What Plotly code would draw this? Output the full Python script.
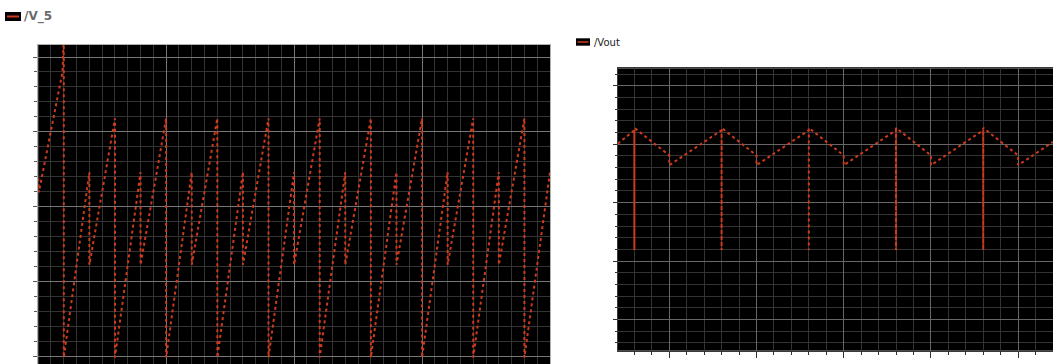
import plotly.graph_objects as go

# ---------------- data ----------------
# /V_5 (left panel) : time in grid units, value in grid units
v5_t = [0.0, 0.05, 1.9, 2.0, 2.0,
        4.0, 4.0, 6.0, 6.0,
        8.0, 8.0, 10.0, 10.0,
        12.0, 12.0, 14.0, 14.0,
        16.0, 16.0, 18.0, 18.0,
        20.0, 20.0, 22.0, 22.0,
        24.0, 24.0, 26.0, 26.0,
        28.0, 28.0, 30.0, 30.0,
        32.0, 32.0, 34.0, 34.0,
        36.0, 36.0, 38.0, 38.0,
        40.0]
v5_v = [2.38, 2.19, 3.80, 4.30, -0.02,
        2.46, 1.22, 3.18, -0.02,
        2.46, 1.22, 3.18, -0.02,
        2.46, 1.22, 3.18, -0.02,
        2.46, 1.22, 3.18, -0.02,
        2.46, 1.22, 3.18, -0.02,
        2.46, 1.22, 3.18, -0.02,
        2.46, 1.22, 3.18, -0.02,
        2.46, 1.22, 3.18, -0.02,
        2.46, 1.22, 3.18, -0.02,
        2.46]

# /Vout (right panel)
vout_t = [2.05, 3.0, 3.0, 3.0, 5.0, 5.0,
          8.0, 8.0, 8.0, 10.0, 10.0,
          13.0, 13.0, 13.0, 15.0, 15.0,
          18.0, 18.0, 18.0, 20.0, 20.0,
          23.0, 23.0, 23.0, 25.0, 25.0,
          27.0]
vout_v = [3.01, 3.24, 1.19, 3.28, 2.81, 2.64,
          3.24, 1.19, 3.28, 2.81, 2.64,
          3.24, 1.19, 3.28, 2.81, 2.64,
          3.24, 1.19, 3.28, 2.81, 2.64,
          3.24, 1.19, 3.28, 2.81, 2.64,
          3.04]

legend_left = "/V_5"
legend_right = "/Vout"

# ---------------- figure ----------------
W, H = 1053, 364
RED = "#cc3b1e"

def px(x):
    return x / W

def py(y):
    return 1 - y / H

fig = go.Figure()
fig.add_trace(go.Scatter(x=v5_t, y=v5_v, mode="lines",
                         line=dict(color=RED, width=2, dash="dot"),
                         xaxis="x", yaxis="y", showlegend=False,
                         hoverinfo="skip"))
fig.add_trace(go.Scatter(x=vout_t, y=vout_v, mode="lines",
                         line=dict(color=RED, width=2, dash="dot"),
                         xaxis="x2", yaxis="y2", showlegend=False,
                         hoverinfo="skip"))

MINOR = "#333333"
MAJOR_L = "#777777"
MAJOR_R = "#666666"

fig.update_layout(
    width=W, height=H,
    margin=dict(l=0, r=0, t=0, b=0),
    paper_bgcolor="white",
    plot_bgcolor="black",
    xaxis=dict(domain=[px(38.2), px(550)], range=[0, 40],
               dtick=10, tick0=0, showgrid=True, gridcolor=MAJOR_L, gridwidth=1,
               minor=dict(dtick=1, showgrid=True, gridcolor=MINOR, gridwidth=1),
               showticklabels=False, ticks="", zeroline=False,
               showline=True, linecolor="#b0b0b0", mirror=True, anchor="y"),
    yaxis=dict(domain=[0, py(45)], range=[-0.107, 4.161],
               dtick=1, tick0=0, showgrid=True, gridcolor=MAJOR_L, gridwidth=1,
               minor=dict(dtick=0.2, showgrid=True, gridcolor=MINOR, gridwidth=1,
                          ticks="outside", ticklen=3, tickcolor="#555"),
               ticks="outside", ticklen=4, tickcolor="#555",
               showticklabels=False, zeroline=False,
               showline=True, linecolor="#b0b0b0", mirror=True, anchor="x"),
    xaxis2=dict(domain=[px(617.8), 1.0], range=[2.05, 27.0],
                dtick=5, tick0=0, showgrid=True, gridcolor=MAJOR_R, gridwidth=1,
                minor=dict(dtick=1, showgrid=True, gridcolor=MINOR, gridwidth=1,
                           ticks="outside", ticklen=3, tickcolor="#333"),
                ticks="outside", ticklen=6, tickcolor="#333",
                showticklabels=False, zeroline=False,
                showline=True, linecolor="#3a3a3a", mirror=True, anchor="y2"),
    yaxis2=dict(domain=[py(350.7), py(68.3)], range=[-0.534, 4.30],
                dtick=1, tick0=0, showgrid=True, gridcolor=MAJOR_R, gridwidth=1,
                minor=dict(dtick=0.2, showgrid=True, gridcolor=MINOR, gridwidth=1,
                           ticks="outside", ticklen=2, tickcolor="#333"),
                ticks="outside", ticklen=4, tickcolor="#333",
                showticklabels=False, zeroline=False,
                showline=True, linecolor="#3a3a3a", mirror=True, anchor="x2"),
)

# legend swatches
shapes = [
    dict(type="rect", xref="paper", yref="paper",
         x0=px(5), x1=px(21), y0=py(21), y1=py(12),
         fillcolor="black", line=dict(width=0)),
    dict(type="line", xref="paper", yref="paper",
         x0=px(7), x1=px(19), y0=py(16.5), y1=py(16.5),
         line=dict(color=RED, width=2)),
    dict(type="rect", xref="paper", yref="paper",
         x0=px(576), x1=px(590), y0=py(45.7), y1=py(38.3),
         fillcolor="black", line=dict(width=0)),
    dict(type="line", xref="paper", yref="paper",
         x0=px(577.5), x1=px(588.5), y0=py(42), y1=py(42),
         line=dict(color=RED, width=1.5)),
]
fig.update_layout(shapes=shapes)

fig.add_annotation(x=px(22), y=py(16.5), xref="paper", yref="paper",
                   text="<b>" + legend_left + "</b>", showarrow=False,
                   xanchor="left", yanchor="middle",
                   font=dict(family="DejaVu Sans", size=12, color="#6a6a6a"))
fig.add_annotation(x=px(592), y=py(42), xref="paper", yref="paper",
                   text=legend_right, showarrow=False,
                   xanchor="left", yanchor="middle",
                   font=dict(family="DejaVu Sans", size=10, color="#222"))

fig.write_html("out.html",
               config={"displayModeBar": False, "staticPlot": True},
               post_script="document.body.style.margin='0';"
                           "document.body.style.overflow='hidden';")
